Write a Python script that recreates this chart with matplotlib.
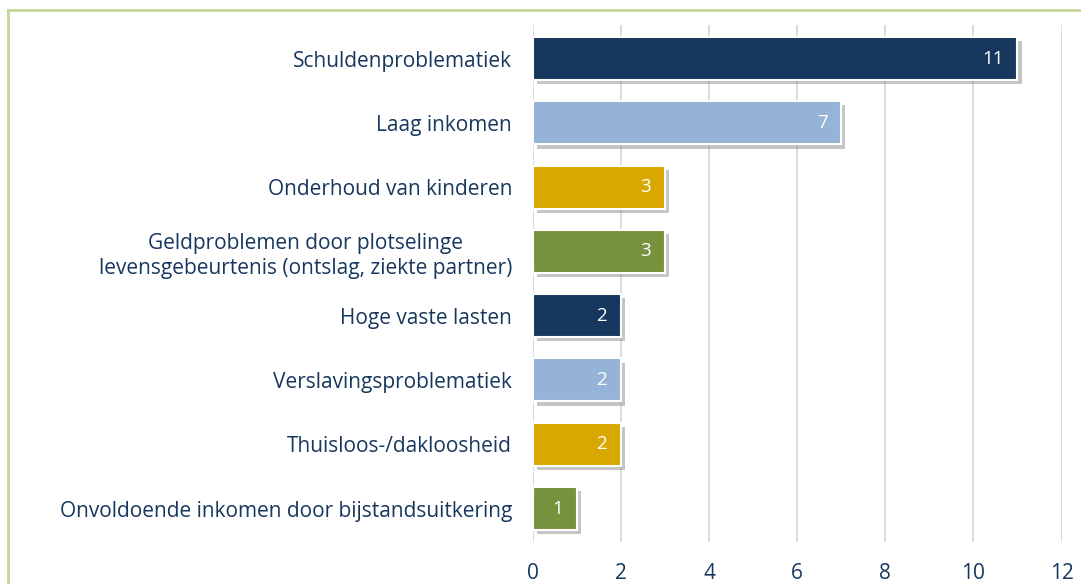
import matplotlib
matplotlib.use("Agg")
import matplotlib.pyplot as plt
from matplotlib import patheffects as pe
from matplotlib.lines import Line2D

categories = [
    "Schuldenproblematiek",
    "Laag inkomen",
    "Onderhoud van kinderen",
    "Geldproblemen door plotselinge\nlevensgebeurtenis (ontslag, ziekte partner)",
    "Hoge vaste lasten",
    "Verslavingsproblematiek",
    "Thuisloos-/dakloosheid",
    "Onvoldoende inkomen door bijstandsuitkering",
]
values = [11, 7, 3, 3, 2, 2, 2, 1]
colors = ["#17375E", "#95B3D7", "#D9A800", "#76923C"] * 2
xticks = [0, 2, 4, 6, 8, 10, 12]

plt.rcParams['font.family'] = ['Open Sans', 'DejaVu Sans']
text_color = "#17375E"

fig = plt.figure(figsize=(10.81, 5.84), dpi=100)
ax = fig.add_axes([0.493, 0.072, 0.489, 0.885])

ypos = list(range(len(categories)))
bars = ax.barh(ypos, values, height=0.67, color=colors, edgecolor="white",
               linewidth=1.5, zorder=3)
for b in bars:
    b.set_path_effects([pe.SimplePatchShadow(offset=(3, -3), shadow_rgbFace="#8c8c8c", alpha=0.5),
                        pe.Normal()])

for y, v in zip(ypos, values):
    ax.annotate(str(v), xy=(v, y), xytext=(-10, 0), textcoords="offset points",
                ha="right", va="center", color="white", fontsize=13.5, zorder=4)

ax.set_xlim(0, 12)
ax.set_ylim(len(categories) - 0.48, -0.52)
ax.set_xticks(xticks)
ax.set_xticklabels([str(t) for t in xticks])
ax.set_yticks(ypos)
ax.set_yticklabels(categories, multialignment="center", linespacing=1.25)
ax.tick_params(axis="both", length=0, colors=text_color, labelsize=15)
ax.tick_params(axis="y", pad=15)
ax.tick_params(axis="x", pad=15)
for s in ax.spines.values():
    s.set_visible(False)
ax.grid(axis="x", color="#D9D9D9", linewidth=1.3, zorder=0)
ax.set_axisbelow(True)

# outer light-green frame (top and left only, as in the cropped reference)
fig.add_artist(Line2D([8/1081, 8/1081], [0, 1 - 10/584], transform=fig.transFigure,
                      color="#C3D69B", linewidth=2))
fig.add_artist(Line2D([8/1081, 1], [1 - 10/584, 1 - 10/584], transform=fig.transFigure,
                      color="#C3D69B", linewidth=2))

fig.savefig("out.png", dpi=100)
